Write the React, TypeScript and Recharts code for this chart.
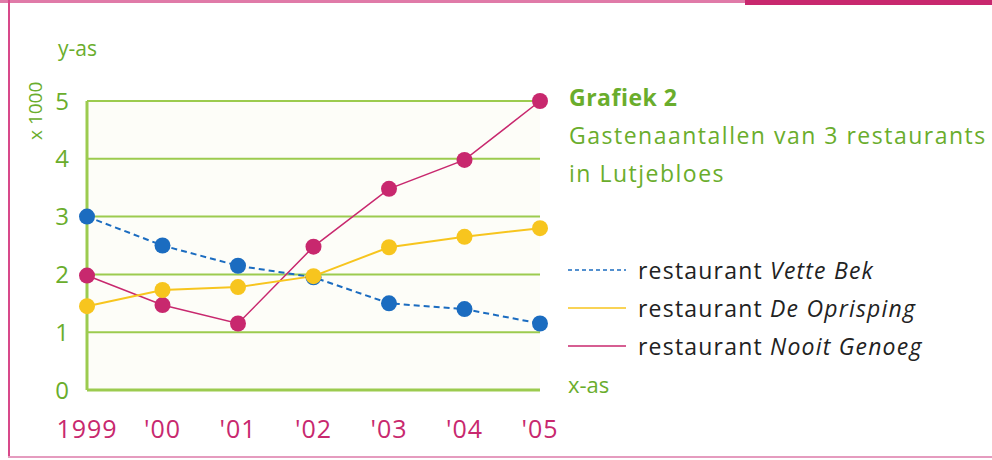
import React from "react";
import { LineChart, Line, XAxis, YAxis, CartesianGrid } from "recharts";

const years = ["1999", "'00", "'01", "'02", "'03", "'04", "'05"];
const vetteBek = [3.0, 2.5, 2.15, 1.95, 1.5, 1.4, 1.15];
const deOprisping = [1.45, 1.73, 1.78, 1.97, 2.47, 2.65, 2.8];
const nooitGenoeg = [1.98, 1.47, 1.15, 2.48, 3.48, 3.98, 5.0];
const yTicks = [0, 1, 2, 3, 4, 5];

const data = years.map((y, i) => ({
  year: y,
  vette: vetteBek[i],
  oprisping: deOprisping[i],
  nooit: nooitGenoeg[i],
}));

const GREEN = "#6aad2c";
const GRID = "#9ccb4f";
const MAGENTA = "#c8286e";
const BLUE = "#1b6cc0";
const YELLOW = "#f7c51e";
const FONT = "'Open Sans', 'DejaVu Sans', sans-serif";

function XTick(props: any) {
  const { x, y, payload } = props;
  return (
    <text x={x} y={y + 40} textAnchor="middle" fill={MAGENTA} fontSize={25} fontFamily={FONT} letterSpacing={1}>
      {payload.value}
    </text>
  );
}

function LegendRow({ color, dashed, name }: { color: string; dashed?: boolean; name: string }) {
  return (
    <div style={{ display: "flex", alignItems: "center", height: 38 }}>
      <svg width={62} height={10} style={{ marginRight: 8 }}>
        <line x1={0} y1={5} x2={58} y2={5} stroke={color} strokeWidth={1.5} strokeDasharray={dashed ? "4 3" : undefined} />
      </svg>
      <span style={{ color: "#222", fontSize: 23, letterSpacing: 1.2 }}>
        restaurant <i>{name}</i>
      </span>
    </div>
  );
}

export default function App() {
  return (
    <div style={{ position: "absolute", left: 0, top: 0, width: 992, height: 460, background: "#fff", fontFamily: FONT }}>
      {/* frame */}
      <div style={{ position: "absolute", left: 0, top: 0, width: 745, height: 3, background: "#e07aa8" }} />
      <div style={{ position: "absolute", left: 745, top: 0, width: 247, height: 5, background: MAGENTA }} />
      <div style={{ position: "absolute", left: 8, top: 0, width: 2, height: 458, background: "#d8498a" }} />
      <div style={{ position: "absolute", left: 8, top: 456, width: 984, height: 2, background: "#e59cbf" }} />

      <LineChart
        width={992}
        height={460}
        data={data}
        margin={{ top: 101, right: 452, bottom: 40, left: 27 }}
        style={{ position: "absolute", left: 0, top: 0 }}
      >
        <CartesianGrid vertical={false} stroke={GRID} strokeWidth={2} fill="#fdfdf8" />
        <XAxis
          dataKey="year"
          height={30}
          tick={<XTick />}
          tickLine={false}
          axisLine={{ stroke: GRID, strokeWidth: 3 }}
          interval={0}
        />
        <YAxis
          width={60}
          domain={[0, 5]}
          ticks={yTicks}
          tickLine={false}
          tickSize={0}
          tickMargin={18}
          axisLine={{ stroke: GRID, strokeWidth: 3 }}
          tick={{ fill: GREEN, fontSize: 24, fontFamily: FONT }}
        />
        <Line
          dataKey="nooit"
          stroke={MAGENTA}
          strokeWidth={1.5}
          dot={{ r: 8, fill: MAGENTA, stroke: "none" }}
          isAnimationActive={false}
        />
        <Line
          dataKey="vette"
          stroke={BLUE}
          strokeWidth={2}
          strokeDasharray="6 4"
          dot={{ r: 8, fill: BLUE, stroke: "none" }}
          isAnimationActive={false}
        />
        <Line
          dataKey="oprisping"
          stroke={YELLOW}
          strokeWidth={2}
          dot={{ r: 8, fill: YELLOW, stroke: "none" }}
          isAnimationActive={false}
        />
      </LineChart>

      <div style={{ position: "absolute", left: 58, top: 34, color: GREEN, fontSize: 21 }}>y-as</div>
      <svg width={40} height={70} style={{ position: "absolute", left: 12, top: 80 }}>
        <text x={0} y={0} transform="translate(30 60) rotate(-90)" fill={GREEN} fontSize={19} fontFamily={FONT}>
          x 1000
        </text>
      </svg>
      <div style={{ position: "absolute", left: 568, top: 369, color: GREEN, fontSize: 22 }}>x-as</div>

      <div style={{ position: "absolute", left: 569, top: 78, color: GREEN, lineHeight: "38px", letterSpacing: 1.5 }}>
        <div style={{ fontSize: 23, fontWeight: 700, letterSpacing: 0.5 }}>Grafiek 2</div>
        <div style={{ fontSize: 23 }}>Gastenaantallen van 3 restaurants</div>
        <div style={{ fontSize: 23 }}>in Lutjebloes</div>
      </div>

      <div style={{ position: "absolute", left: 568, top: 251 }}>
        <LegendRow color={BLUE} dashed name="Vette Bek" />
        <LegendRow color={YELLOW} name="De Oprisping" />
        <LegendRow color={MAGENTA} name="Nooit Genoeg" />
      </div>
    </div>
  );
}
